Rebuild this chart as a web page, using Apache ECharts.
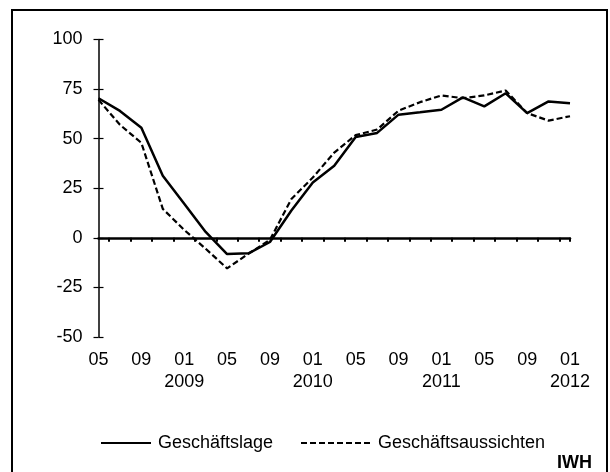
<!DOCTYPE html>
<html>
<head>
<meta charset="utf-8">
<script src="https://cdn.jsdelivr.net/npm/echarts@6/dist/echarts.min.js"></script>
<style>
  html, body { margin: 0; padding: 0; background: #fff; }
  #main { width: 610px; height: 472px; }
</style>
</head>
<body>
<div id="main"></div>
<script>
// Monatsachse (Umfrage alle zwei Monate)
const months = [
  '2008-05', '2008-06', '2008-07', '2008-08', '2008-09', '2008-10', '2008-11', '2008-12',
  '2009-01', '2009-02', '2009-03', '2009-04', '2009-05', '2009-06', '2009-07', '2009-08',
  '2009-09', '2009-10', '2009-11', '2009-12', '2010-01', '2010-02', '2010-03', '2010-04',
  '2010-05', '2010-06', '2010-07', '2010-08', '2010-09', '2010-10', '2010-11', '2010-12',
  '2011-01', '2011-02', '2011-03', '2011-04', '2011-05', '2011-06', '2011-07', '2011-08',
  '2011-09', '2011-10', '2011-11', '2011-12', '2012-01'
]
// Werte je Umfrage (05/2008 bis 01/2012)
const geschaeftslage = [70.4, 64, 55.5, 31.3, 17.2, 3, -8.2, -7.8, -2.1, 13.8, 27.9, 36.3,
  50.8, 52.9, 62.1, 63.3, 64.6, 70.8, 66.3, 72.9, 62.9, 68.8, 67.9]
const geschaeftsaussichten = [69.6, 57, 47.9, 14.6, 4, -5.5, -15.4, -8, -1, 19.6, 30.4, 43,
  51.8, 54.6, 64.1, 68.4, 71.8, 70.4, 71.8, 74.3, 62.9, 59.1, 61.3]
const yTicks = [-50, -25, 0, 25, 50, 75, 100]

const font = 'Arial, "Liberation Sans", sans-serif'
const fs = 18

// jede Umfrage auf ihren Monat legen
function toMonthly (values) {
  return months.map(function (m, i) { return i % 2 === 0 ? values[i / 2] : null })
}
// nur Linie in der Legende, kein Punkt
function legendFor (name, left, w) {
  return {
    left: left,
    top: 429,
    itemWidth: w,
    itemHeight: 14,
    itemStyle: { opacity: 0 },
    textStyle: { fontFamily: font, fontSize: fs, color: '#000', padding: [0, 0, 0, 2] },
    data: [name]
  }
}

var myChart = echarts.init(document.getElementById('main'))
var option = {
  animation: false,
  backgroundColor: '#fff',
  textStyle: { fontFamily: font, color: '#000' },
  grid: { left: 98.5, right: 40, top: 39.5, bottom: 135 },
  legend: [
    legendFor('Geschäftslage', 95, 50),
    legendFor('Geschäftsaussichten', 295, 70)
  ],
  xAxis: [
    {
      // Nulllinie mit Strichen nach unten
      type: 'category',
      data: months,
      boundaryGap: false,
      axisLine: { onZero: true, onZeroAxisIndex: 0, lineStyle: { color: '#000', width: 2.5 } },
      axisTick: {
        show: true, inside: false, length: 4,
        interval: function (i) { return i % 2 === 1 || i === months.length - 1 },
        lineStyle: { color: '#000', width: 2 }
      },
      axisLabel: { show: false },
      splitLine: { show: false }
    },
    {
      // Beschriftung unten
      type: 'category',
      data: months,
      boundaryGap: false,
      position: 'bottom',
      axisLine: { show: false, onZero: false },
      axisTick: { show: false },
      axisLabel: {
        interval: function (i) { return i % 4 === 0 },
        margin: 12,
        fontFamily: font,
        fontSize: fs,
        color: '#000',
        lineHeight: 22,
        formatter: function (v) {
          let p = v.split('-')
          return p[1] === '01' ? p[1] + '\n' + p[0] : p[1]
        }
      },
      splitLine: { show: false }
    },
    {
      // Striche nach oben
      type: 'category',
      data: months,
      boundaryGap: false,
      axisLine: { show: false, onZero: true, onZeroAxisIndex: 0 },
      axisTick: {
        show: true, inside: true, length: 4,
        interval: function (i) { return i % 2 === 1 || i === months.length - 1 },
        lineStyle: { color: '#000', width: 2 }
      },
      axisLabel: { show: false },
      splitLine: { show: false }
    }
  ],
  yAxis: [
    {
      type: 'value',
      min: yTicks[0],
      max: yTicks[yTicks.length - 1],
      interval: 25,
      axisLine: { show: true, lineStyle: { color: '#000', width: 1.5 } },
      axisTick: { show: true, length: 5, lineStyle: { color: '#000', width: 1.2 } },
      axisLabel: { margin: 16, fontFamily: font, fontSize: fs, color: '#000' },
      splitLine: { show: false }
    },
    {
      type: 'value',
      min: yTicks[0],
      max: yTicks[yTicks.length - 1],
      interval: 25,
      position: 'left',
      axisLine: { show: false },
      axisTick: { show: true, inside: true, length: 5, lineStyle: { color: '#000', width: 1.2 } },
      axisLabel: { show: false },
      splitLine: { show: false }
    }
  ],
  graphic: [
    {
      type: 'rect',
      shape: { x: 12, y: 10, width: 595, height: 470 },
      style: { fill: null, stroke: '#000', lineWidth: 2 },
      silent: true
    },
    {
      type: 'text',
      right: 18,
      top: 454,
      style: { text: 'IWH', font: 'bold ' + fs + 'px ' + font, fill: '#000' }
    }
  ],
  series: [
    {
      name: 'Geschäftslage',
      type: 'line',
      data: toMonthly(geschaeftslage),
      connectNulls: true,
      symbol: 'none',
      lineStyle: { color: '#000', width: 2.5, type: 'solid' },
      itemStyle: { color: '#000' }
    },
    {
      name: 'Geschäftsaussichten',
      type: 'line',
      data: toMonthly(geschaeftsaussichten),
      connectNulls: true,
      symbol: 'none',
      lineStyle: { color: '#000', width: 2.2, type: [6, 3] },
      itemStyle: { color: '#000' }
    }
  ]
}
myChart.setOption(option)
</script>
</body>
</html>
